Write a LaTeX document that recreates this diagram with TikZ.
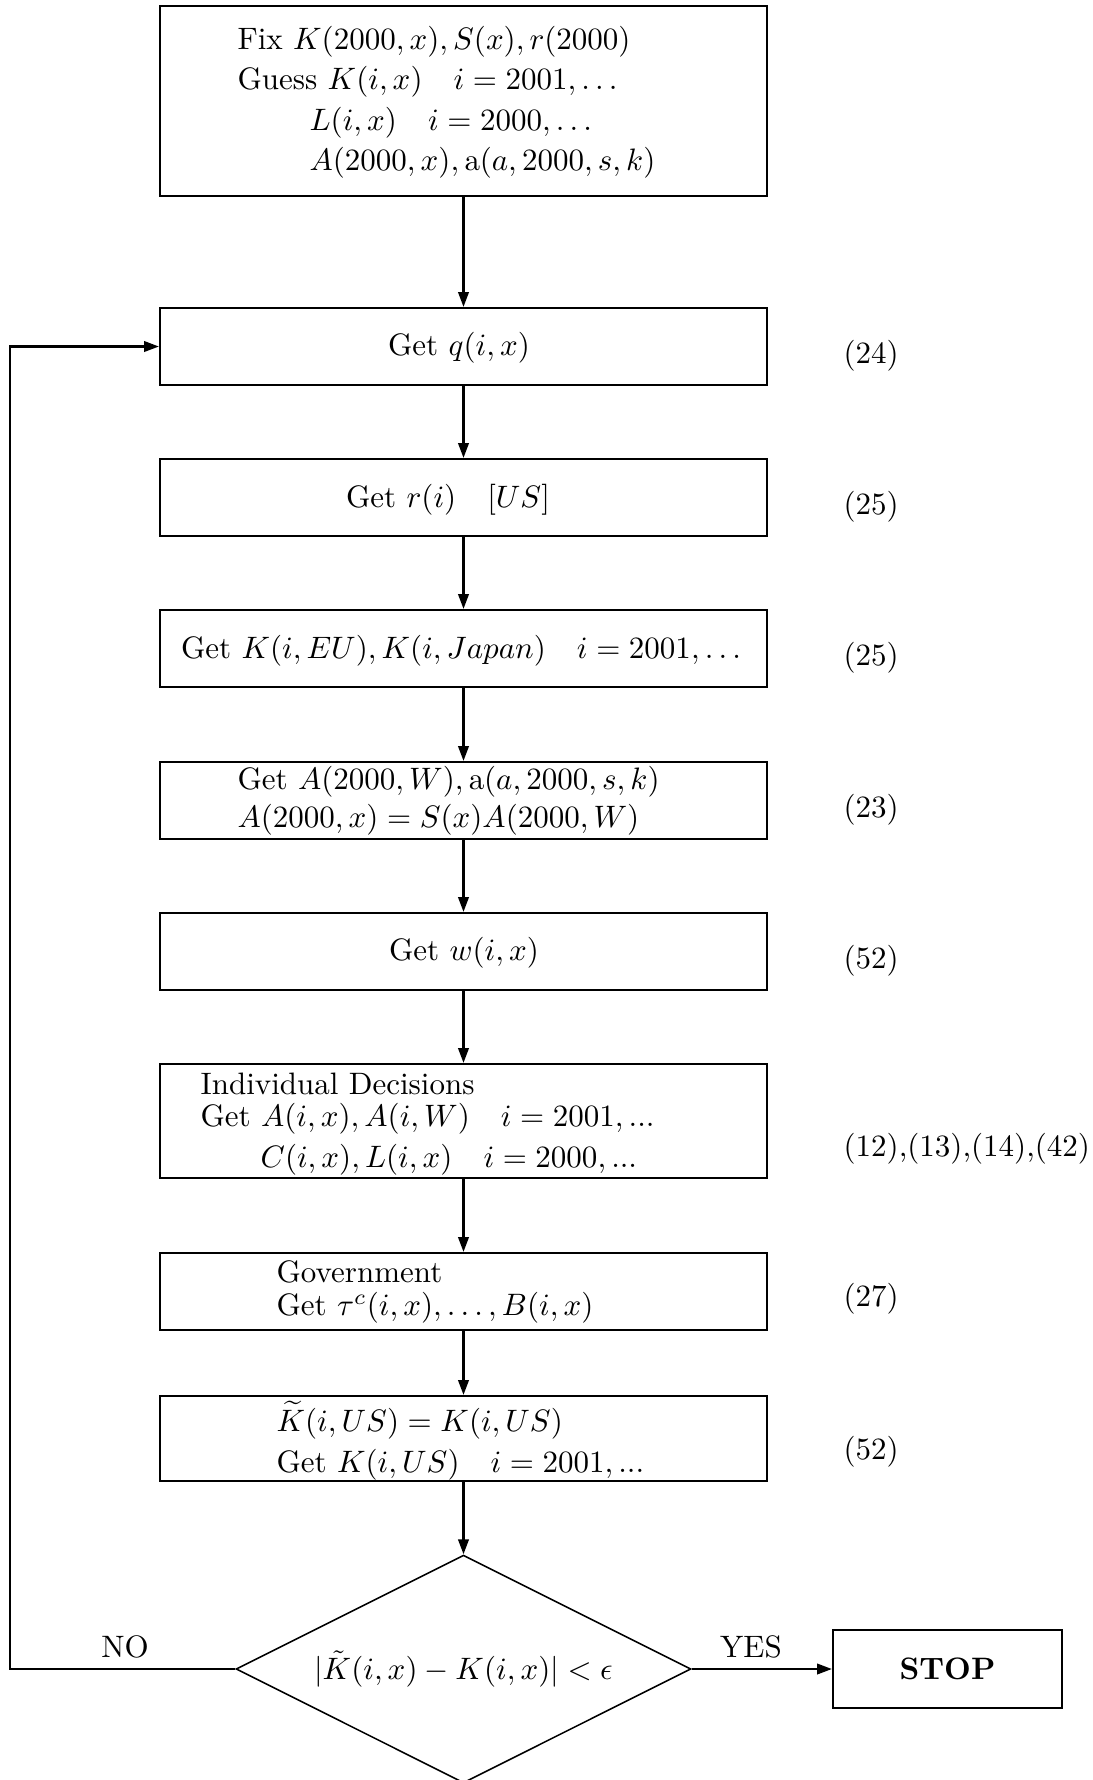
\documentclass[tikz,border=0pt]{standalone}
\usetikzlibrary{arrows.meta,shapes.geometric,fit}
\begin{document}
\begin{tikzpicture}[x=0.3225pt,y=-0.3225pt,
  box/.style={draw, line width=0.7pt, inner sep=0pt},
  txt/.style={inner sep=0pt, text height=7.5pt, text depth=2.5pt, yshift=-0.9pt},
  lt/.style={txt, anchor=west},
  arr/.style={-{Triangle[length=4.8pt,width=3.4pt]}, line width=0.7pt}]
\useasboundingbox (0,0) rectangle (1093,1780);
% boxes
\node[box, fit={(160,6) (767,196)}] (b1) {};
\node[box, fit={(160,308) (767,385)}] (b2) {};
\node[box, fit={(160,459) (767,536)}] (b3) {};
\node[box, fit={(160,610) (767,687)}] (b4) {};
\node[box, fit={(160,762) (767,839)}] (b5) {};
\node[box, fit={(160,913) (767,990)}] (b6) {};
\node[box, fit={(160,1064) (767,1178)}] (b7) {};
\node[box, fit={(160,1253) (767,1330)}] (b8) {};
\node[box, fit={(160,1396) (767,1481)}] (b9) {};
\node[box, fit={(833,1630) (1062,1708)}] (stop) {};
\node[txt] (stoplbl) at (stop.center) {\textbf{STOP}};
\node[diamond, draw, line width=0.5pt, inner sep=0pt, aspect=2,
      minimum width=146.7pt, minimum height=73.5pt] (dia) at (463.5,1669) {};
\node[txt] (dialbl) at (dia.center) {$|\tilde{K}(i,x)-K(i,x)|<\epsilon$};
% texts
\node[lt] (t1a) at (237,39) {Fix $K(2000,x),S(x),r(2000)$};
\node[lt] (t1b) at (237,79) {Guess $K(i,x)\quad i=2001,\ldots$};
\node[lt] (t1c) at (309,120) {$L(i,x)\quad i=2000,\ldots$};
\node[lt] (t1d) at (309,160) {$A(2000,x),\mathrm{a}(a,2000,s,k)$};
\node[txt] (t2) at (459,345) {Get $q(i,x)$};
\node[txt] (t3) at (448,497) {Get $r(i)\quad[US]$};
\node[txt] (t4) at (461,648) {Get $K(i,EU),K(i,Japan)\quad i=2001,\ldots$};
\node[lt] (t5a) at (237,779) {Get $A(2000,W),\mathrm{a}(a,2000,s,k)$};
\node[lt] (t5b) at (237,817) {$A(2000,x)=S(x)A(2000,W)$};
\node[txt] (t6) at (464,950) {Get $w(i,x)$};
\node[lt] (t7a) at (200,1084) {Individual Decisions};
\node[lt] (t7b) at (200,1116) {Get $A(i,x),A(i,W)\quad i=2001,...$};
\node[lt] (t7c) at (260,1157) {$C(i,x),L(i,x)\quad i=2000,...$};
\node[lt] (t8a) at (276,1272) {Government};
\node[lt] (t8b) at (276,1305) {Get $\tau^c(i,x),\ldots,B(i,x)$};
\node[lt] (t9a) at (276,1421) {$\widetilde{K}(i,US)=K(i,US)$};
\node[lt] (t9b) at (276,1462) {Get $K(i,US)\quad i=2001,...$};
% equation labels
\node[lt] (e2) at (843,353) {(24)};
\node[lt] (e3) at (843,504) {(25)};
\node[lt] (e4) at (843,655) {(25)};
\node[lt] (e5) at (843,807) {(23)};
\node[lt] (e6) at (843,958) {(52)};
\node[lt] (e7) at (843,1146) {(12),(13),(14),(42)};
\node[lt] (e8) at (843,1296) {(27)};
\node[lt] (e9) at (843,1449) {(52)};
\node[txt] (no) at (125,1647) {NO};
\node[txt] (yes) at (751,1647) {YES};
% connectors
\draw[arr] (b1.south) -- (b2.north);
\draw[arr] (b2.south) -- (b3.north);
\draw[arr] (b3.south) -- (b4.north);
\draw[arr] (b4.south) -- (b5.north);
\draw[arr] (b5.south) -- (b6.north);
\draw[arr] (b6.south) -- (b7.north);
\draw[arr] (b7.south) -- (b8.north);
\draw[arr] (b8.south) -- (b9.north);
\draw[arr] (b9.south) -- (dia.north);
\coordinate (lp) at (10,1669);
\draw[arr] (dia.west) -- (lp) |- (b2.west);
\draw[arr] (dia.east) -- (stop.west);
\end{tikzpicture}
\end{document}
